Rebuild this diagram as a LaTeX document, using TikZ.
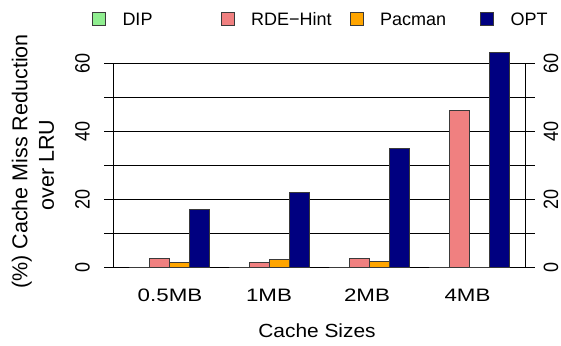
\documentclass[tikz,border=0pt]{standalone}
\usepackage{fontspec}
\setmainfont{Liberation Sans}
\definecolor{dipc}{HTML}{90EE90}
\definecolor{rdec}{HTML}{F08080}
\definecolor{pacc}{HTML}{FFA500}
\definecolor{optc}{HTML}{000080}
\definecolor{edgec}{HTML}{3A3A3A}
\begin{document}
\begin{tikzpicture}[x=1pt,y=-1pt,
  gridline/.style={black,line width=0.9pt},
  barbox/.style={draw=edgec,line width=0.9pt},
  keybox/.style={draw=edgec,line width=0.9pt},
  keytext/.style={anchor=base west,inner sep=0pt,font=\fontsize{18}{18}\selectfont},
  ticktext/.style={inner sep=0pt,font=\fontsize{18}{18}\selectfont},
  titletext/.style={inner sep=0pt,font=\fontsize{21.5}{21.5}\selectfont}]
\useasboundingbox (0,0) rectangle (561,345);

% horizontal grid lines with their tick stubs on both sides
\foreach \k in {0,...,6}
  \draw[gridline] (104,{267.3-34*\k}) -- (535,{267.3-34*\k});
% left and right axes
\draw[gridline] (113,63.3) -- (113,267.3);
\draw[gridline] (525,63.3) -- (525,267.3);

% bars: group, DIP, RDE-Hint, Pacman, OPT
\foreach \g/\va/\vb/\vc/\vd in {0/0/2.6/1.3/17.0, 1/0/1.5/2.4/22.0, 2/0/2.6/1.8/35.0, 3/0/46.0/0/63.3}{
  \pgfmathsetmacro\xo{129.3+100*\g}
  \draw[barbox,fill=dipc] (\xo,267.3) rectangle ({\xo+20},{267.3-3.4*\va});
  \draw[barbox,fill=rdec] ({\xo+20},267.3) rectangle ({\xo+40},{267.3-3.4*\vb});
  \draw[barbox,fill=pacc] ({\xo+40},267.3) rectangle ({\xo+60},{267.3-3.4*\vc});
  \draw[barbox,fill=optc] ({\xo+60},267.3) rectangle ({\xo+80},{267.3-3.4*\vd});
}

% y tick labels, left and right
\foreach \v/\n in {0/a,20/b,40/c,60/d}{
  \node[ticktext,rotate=90] (yl\n) at (82.5,{267.3-3.4*\v}) {\scalebox{1}[1.15]{\v}};
  \node[ticktext,rotate=90] (yr\n) at (551,{267.3-3.4*\v}) {\scalebox{1}[1.15]{\v}};
}

% x tick labels
\node[ticktext,anchor=base] (x1) at (170,301.3) {\scalebox{1.24}[1]{0.5MB}};
\node[ticktext,anchor=base] (x2) at (269,301.3) {\scalebox{1.24}[1]{1MB}};
\node[ticktext,anchor=base] (x3) at (367,301.3) {\scalebox{1.24}[1]{2MB}};
\node[ticktext,anchor=base] (x4) at (467.5,301.3) {\scalebox{1.24}[1]{4MB}};

% axis titles
\node[ticktext,anchor=base,font=\fontsize{19}{19}\selectfont] (xtitle) at (317,337) {\scalebox{1.1}[1]{Cache Sizes}};
\node[titletext,rotate=90] (ytitle1) at (21.7,161.5) {(\%) Cache Miss Reduction};
\node[titletext,rotate=90] (ytitle2) at (46.7,165) {over LRU};

% legend
\foreach \xk/\col/\txt/\n in {92.3/dipc/DIP/a, 221/rdec/RDE\textminus Hint/b, 350/pacc/Pacman/c, 480.5/optc/OPT/d}{
  \draw[keybox,fill=\col] (\xk,12.5) rectangle ({\xk+13.3},25.5);
  \node[keytext] (key\n) at ({\xk+30},25.7) {\txt};
}
\end{tikzpicture}
\end{document}
